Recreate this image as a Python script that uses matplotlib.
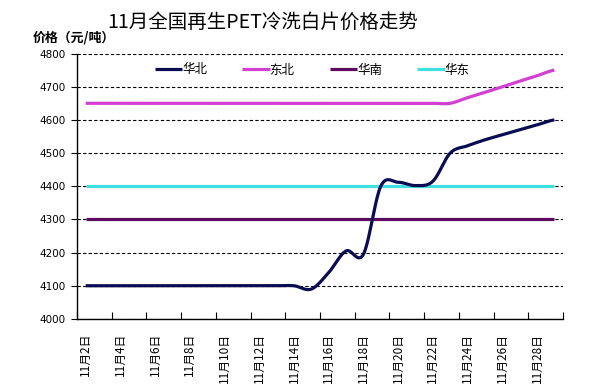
import numpy as np
import matplotlib.pyplot as plt

plt.rcParams['font.family'] = ['Noto Sans CJK SC', 'DejaVu Sans']

days = list(range(2, 30))
tick_labels = [f"11月{d}日" for d in days]

huabei = [4100] * 13 + [4090, 4140, 4205, 4195, 4400, 4412, 4402, 4415,
                        4500, 4522, 4540, 4555, 4570, 4585, 4600]
dongbei = [4650] * 22 + [4667, 4683, 4700, 4717, 4733, 4750]
huanan = [4300] * 28
huadong = [4400] * 28

series = [
    ("华北", huabei, "#0b0b52"),
    ("东北", dongbei, "#d23fd2"),
    ("华南", huanan, "#5e0a5e"),
    ("华东", huadong, "#40e0e0"),
]


def smooth(y, n=20):
    # Catmull-Rom curve through the daily points, like a smoothed Excel line
    y = np.asarray(y, dtype=float)
    p = np.concatenate([[y[0]], y, [y[-1]]])
    xs, ys = [], []
    for i in range(len(y) - 1):
        p0, p1, p2, p3 = p[i], p[i + 1], p[i + 2], p[i + 3]
        t = np.linspace(0, 1, n, endpoint=False)
        m1 = (p2 - p0) / 2
        m2 = (p3 - p1) / 2
        h = (2 * t**3 - 3 * t**2 + 1) * p1 + (t**3 - 2 * t**2 + t) * m1 \
            + (-2 * t**3 + 3 * t**2) * p2 + (t**3 - t**2) * m2
        xs.append(i + t)
        ys.append(h)
    xs.append([len(y) - 1])
    ys.append([y[-1]])
    return np.concatenate(xs), np.concatenate(ys)


fig = plt.figure(figsize=(5.99, 3.88), dpi=100)
ax = fig.add_axes([0.1285, 0.178, 0.8115, 0.684])

for name, vals, color in series[::-1]:
    sx, sy = smooth(vals)
    ax.plot(sx, sy, color=color, lw=2.3, label=name, solid_capstyle="butt")

ax.set_xlim(-0.5, len(days) - 0.5)
ax.set_ylim(4000, 4800)
ax.set_yticks(range(4000, 4801, 100))
ax.tick_params(axis="y", direction="out", length=4, width=0.8, labelsize=7.5, pad=4)
for lab in ax.get_yticklabels():
    lab.set_family("DejaVu Sans")

ax.set_xticks(np.arange(-0.5, len(days), 2))
ax.set_xticklabels([])
ax.set_xticks(np.arange(0, len(days), 2), minor=True)
ax.set_xticklabels(tick_labels[::2], minor=True, rotation=90, fontsize=8.5)
ax.tick_params(axis="x", which="major", direction="in", length=5, width=0.8)
ax.tick_params(axis="x", which="minor", length=0, pad=10)

ax.grid(axis="y", color="black", linestyle=(0, (3, 2)), lw=0.8)
ax.set_axisbelow(True)
for s in ("top", "right"):
    ax.spines[s].set_visible(False)
for s in ("left", "bottom"):
    ax.spines[s].set_linewidth(1.0)

handles, labels = ax.get_legend_handles_labels()
ax.legend(handles[::-1], labels[::-1], ncol=4, frameon=False, loc="center",
          bbox_to_anchor=(312 / 599, 1 - 70 / 388), bbox_transform=fig.transFigure,
          fontsize=9, handlelength=2.2, handletextpad=0.0, columnspacing=2.8)

fig.text(0.438, 0.943, "11月全国再生PET冷洗白片价格走势", ha="center", va="center",
         fontsize=14, fontweight="medium")
fig.text(0.055, 0.903, "价格（元/吨）", ha="left", va="center", fontsize=9.3,
         fontweight="bold")

fig.savefig("out.png", dpi=100)
